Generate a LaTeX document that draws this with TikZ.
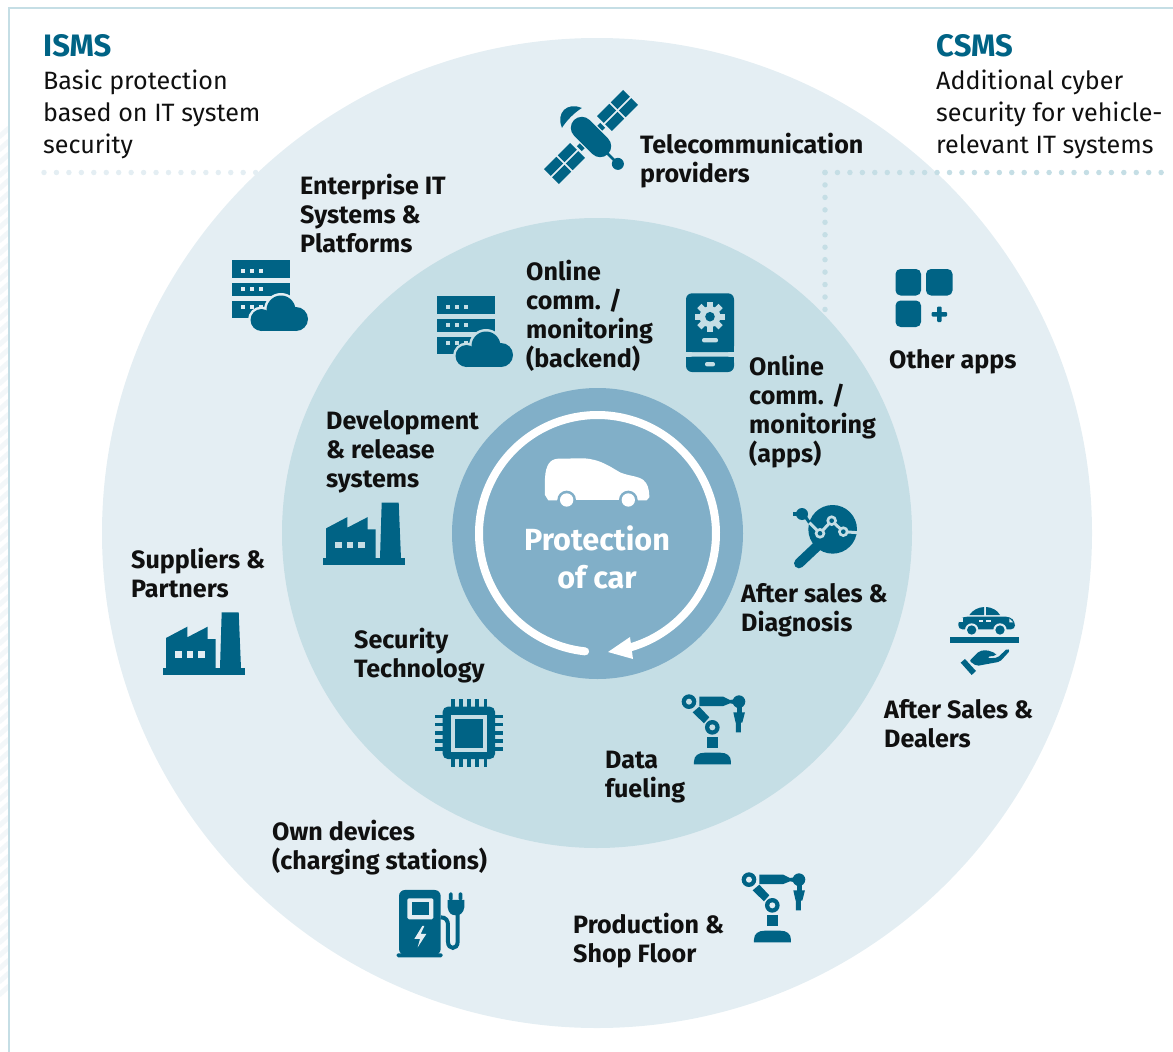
\documentclass[tikz,border=0pt]{standalone}
\usepackage{fontspec}
\setmainfont{Fira Sans}
\normallineskiplimit=-20pt
\AtBeginDocument{\lineskiplimit=-20pt\relax\normallineskiplimit=-20pt\relax}
\definecolor{outerc}{HTML}{E4EEF3}
\definecolor{midc}{HTML}{C5DEE5}
\definecolor{innerc}{HTML}{81AFC8}
\definecolor{ic}{HTML}{006385}
\definecolor{txt}{HTML}{101010}
\definecolor{hatch}{HTML}{F3F7F9}
\tikzset{
  lab/.style={anchor=north west,inner sep=0pt,align=left,text=txt,font=\fontsize{25.1}{28.9}\selectfont\bfseries},
  body/.style={anchor=north west,inner sep=0pt,align=left,text=txt,font=\fontsize{25.1}{32}\selectfont},
  head/.style={anchor=north west,inner sep=0pt,align=left,text=ic,font=\fontsize{31}{32}\selectfont\bfseries},
  centre/.style={inner sep=0pt,align=center,text=white,font=\fontsize{30.6}{38}\selectfont\bfseries},
  pics/server/.style={code={
    \fill[ic] (0,0) rectangle (58,18.4);
    \fill[ic] (0,22.7) rectangle (58,36);
    \fill[ic] (0,40.7) rectangle (58,58);
    \foreach \yy in {8.7,26.8,44.7}{\foreach \xx in {9.3,18.3,27.3}{\fill[#1] (\xx,\yy) rectangle +(4,4);}}
    \filldraw[#1,line width=5pt] (29.5,60) circle (11);
    \filldraw[#1,line width=5pt] (49,50) circle (14.5);
    \filldraw[#1,line width=5pt] (64,59) circle (12);
    \filldraw[#1,line width=5pt] (29.5,55) rectangle (64,71);
    \fill[ic] (29.5,60) circle (11);
    \fill[ic] (49,50) circle (14.5);
    \fill[ic] (64,59) circle (12);
    \fill[ic] (29.5,55) rectangle (64,71);
  }},
  pics/factory/.style={code={
    \fill[ic] (0,55.4) rectangle (81.7,62.4);
    \fill[ic] (2.7,25.7) -- (24,14.4) -- (24,25) -- (44.4,14.4) -- (44.4,26.7) -- (52.4,26.7) -- (52.4,56) -- (2.7,56) -- cycle;
    \fill[ic] (58.4,0) -- (75.4,0) -- (77.7,56) -- (56.7,56) -- cycle;
    \foreach \xx in {11.7,23.4,35}{\fill[#1] (\xx,39) rectangle +(6.7,6.7);}
  }},
  pics/robot/.style={code={
    \begin{scope}[x=0.3333pt,y=-0.3333pt]
      \fill[ic] (942,253) -- (942,245) .. controls (942,227) and (955,218) .. (975,218) -- (1020,218) .. controls (1040,218) and (1053,227) .. (1053,245) -- (1053,253) -- cycle;
      \fill[ic] (982,172) rectangle (1015,205);
      \fill[ic] (938,97) -- (958,80) -- (988,112) -- (972,130) -- cycle;
      \fill[ic] (958,50) -- (1030,50) -- (1050,60) -- (1062,58) -- (1062,72) -- (1050,70) -- (1030,78) -- (958,78) -- cycle;
      \fill[ic] (1077,65) circle (19);
      \fill[ic] (1070,80) rectangle (1085,98);
      \fill[ic] (1060,97) -- (1095,97) -- (1087,128) -- (1083,128) -- (1083,157) -- (1068,157) -- (1068,128) -- (1067,128) -- cycle;
      \fill[ic] (997,142) circle (22);
      \fill[ic] (927,65) circle (22);
      \fill[#1] (997,142) circle (9);
      \fill[#1] (927,65) circle (9);
    \end{scope}
  }},
}
\begin{document}
\begin{tikzpicture}[x=1pt,y=-1pt]
\useasboundingbox (0,0) rectangle (1173,1052);
% faint hatch at the left edge
\begin{scope}
  \clip (0,0) rectangle (8,1052);
  \foreach \yy in {130,143,...,990}{\draw[hatch,line width=5pt] (-1,\yy+7) -- (9,\yy-2);}
\end{scope}
% frame
\coordinate (f1) at (9.3,1052);
\coordinate (f2) at (9.3,8);
\coordinate (f3) at (1173,8);
\draw[midc,line width=2pt] (f1) -- (f2) -- (f3);
% discs
\fill[outerc] (597,533) circle (495);
\fill[midc] (597,533) circle (315);
\fill[innerc] (597.5,533.5) circle (145.5);
% dotted rules
\coordinate (d1) at (44,172.5);
\coordinate (d2) at (258,172.5);
\coordinate (d3) at (825,172.5);
\coordinate (d4) at (1166,172.5);
\coordinate (d5) at (825,312);
\draw[outerc,line width=5.5pt,line cap=round,dash pattern=on 0pt off 12.45pt] (d1) -- (d2);
\draw[midc,line width=5.5pt,line cap=round,dash pattern=on 0pt off 12.45pt] (d3) -- (d4);
\draw[midc,line width=5.5pt,line cap=round,dash pattern=on 0pt off 12.45pt] (d3) -- (d5);
% ring with arrow
\draw[white,line width=8pt,line cap=round] plot[domain=96:437,samples=120,smooth] ({597.5+118.5*cos(\x)},{533.5+118.5*sin(\x)});
\fill[white] (608,652) -- (630,637) -- (633,659) -- cycle;
% car
\begin{scope}[shift={(450,390)},x=0.3333pt,y=-0.3333pt]
  \fill[white] (285,315) -- (285,265) .. controls (287,225) and (300,207) .. (325,206) -- (400,205) .. controls (450,207) and (480,230) .. (510,247) .. controls (535,258) and (565,258) .. (580,270) .. controls (592,280) and (598,295) .. (598,322) -- (590,331) -- (295,331) -- cycle;
  \fill[innerc] (350,330) circle (28);
  \fill[innerc] (535,330) circle (28);
  \fill[innerc] (320,331) rectangle (565,345);
  \fill[white] (350,330) circle (20);
  \fill[white] (535,330) circle (20);
\end{scope}
% enterprise and backend servers
\pic at (232,260) {server=outerc};
\pic at (437,296) {server=midc};
% satellite
\begin{scope}[shift={(591,137)},rotate=45]
  \foreach \uu in {19,38.5,-56,-36.5}{\foreach \vv in {-10.5,1}{\fill[ic] (\uu,\vv) rectangle +(17.5,9.5);}}
  \fill[ic] (12.5,-3.5) rectangle (16.5,3.5);
  \fill[ic] (-16.5,-3.5) rectangle (-12.5,3.5);
  \draw[ic,line width=22pt,line cap=round] (0,-13) -- (0,13);
  \draw[ic,line width=2.5pt] (0,20) -- (0,38);
  \fill[ic] (0,38) circle (6);
  \fill[ic] (-14,-27) .. controls (-8,-42) and (8,-42) .. (14,-27) .. controls (5,-29) and (-5,-29) .. cycle;
\end{scope}
% phone
\fill[ic,rounded corners=6pt] (686,352) -- (686,293.3) -- (734,293.3) -- (734,352) -- cycle;
\fill[ic] (686,345) rectangle (734,351.7);
\fill[ic,rounded corners=6pt] (686,356.7) -- (734,356.7) -- (734,372) -- (686,372) -- cycle;
\fill[ic] (686,356.7) rectangle (734,362);
\foreach \a in {0,45,...,315}{\fill[midc,rotate around={\a:(710,316.7)}] (707,301.7) rectangle (713,310);}
\fill[midc] (710,316.7) circle (10.5);
\fill[ic] (710,316.7) circle (4.8);
\fill[midc,rounded corners=2pt] (702,338) rectangle (718,342.4);
\fill[midc,rounded corners=2pt] (705,362) rectangle (715,366.4);
% apps
\fill[ic,rounded corners=5pt] (895.5,269) rectangle (921,295.5);
\fill[ic,rounded corners=5pt] (926,269) rectangle (952.5,295.5);
\fill[ic,rounded corners=5pt] (895.5,300.5) rectangle (921,327);
\fill[ic,rounded corners=1pt] (931.5,312) rectangle (947,316.5);
\fill[ic,rounded corners=1pt] (937,306.5) rectangle (941.5,322);
% magnifier
\begin{scope}[shift={(780,490)},x=0.3333pt,y=-0.3333pt]
  \draw[ic,line width=10pt,line cap=round] (110,170) -- (57,220);
  \fill[ic] (158,118) circle (73);
  \draw[ic,line width=3pt] (70,72) -- (90,100);
  \fill[ic] (66,72) circle (18);
  \fill[ic] (40,65) rectangle (60,78);
  \draw[midc,line width=3pt] (88,98) -- (120,130) -- (155,92) -- (190,125) -- (232,128);
  \foreach \p in {(120,130),(155,92),(190,125)}{\fill[midc] \p circle (16);\fill[ic] \p circle (7);}
\end{scope}
% factories
\pic at (323.3,502.7) {factory=midc};
\pic at (163.3,612.3) {factory=outerc};
% robots
\pic at (380,680) {robot=midc};
\pic at (440,858) {robot=outerc};
% chip
\foreach \t in {0,8.15,...,33}{
  \fill[ic] ({452.7+\t-1.8},699) rectangle ({452.7+\t+1.8},767);
  \fill[ic] (434.5,{716.5+\t-1.8}) rectangle (503.3,{716.5+\t+1.8});
}
\fill[ic,rounded corners=5pt] (442.7,706.7) rectangle (495,759);
\fill[midc] (450.7,715) rectangle (487.3,751.7);
\fill[ic] (454.7,719) rectangle (483.3,747.7);
% charger
\begin{scope}[shift={(380,680)},x=0.3333pt,y=-0.3333pt]
  \fill[ic,rounded corners=6pt] (57,825) -- (57,630) -- (182,630) -- (182,825) -- cycle;
  \fill[ic,rounded corners=1.5pt] (50,820) rectangle (188,832);
  \fill[outerc,rounded corners=1.5pt] (82,655) rectangle (160,718);
  \fill[ic] (95,667) rectangle (147,705);
  \fill[outerc] (127,738) -- (103,777) -- (120,777) -- (113,802) -- (139,762) -- (122,762) -- (133,738) -- cycle;
  \draw[ic,line width=4pt] (182,712) .. controls (198,712) and (204,722) .. (204,735) -- (204,785) .. controls (204,810) and (233,810) .. (233,785) -- (233,700);
  \fill[ic] (203,660) -- (253,660) -- (253,682) .. controls (250,700) and (240,706) .. (228,706) .. controls (214,706) and (206,700) .. (203,682) -- cycle;
  \fill[ic,rounded corners=1.5pt] (207,637) rectangle (218,662);
  \fill[ic,rounded corners=1.5pt] (236,637) rectangle (247,662);
\end{scope}
% car on hand
\begin{scope}[shift={(930,590)},x=0.3333pt,y=-0.3333pt]
  \fill[ic] (118,75) .. controls (128,60) and (145,52) .. (162,51) -- (162,75) -- cycle;
  \fill[ic] (168,51) .. controls (185,52) and (202,60) .. (210,75) -- (168,75) -- cycle;
  \fill[ic,rounded corners=4pt] (85,90) -- (100,80) -- (240,80) -- (255,95) -- (255,118) -- (85,118) -- cycle;
  \fill[outerc] (88,85) -- (100,85) -- (100,97) -- (88,97) -- cycle;
  \fill[outerc] (238,85) -- (250,97) -- (238,97) -- cycle;
  \fill[outerc] (147,90) rectangle (160,95);
  \fill[outerc] (168,90) rectangle (182,95);
  \fill[outerc] (125,120) circle (20);
  \fill[outerc] (210,120) circle (20);
  \fill[ic] (125,120) circle (14);
  \fill[ic] (210,120) circle (14);
  \fill[ic] (60,142) rectangle (267,158);
  \fill[ic] (92,218) -- (105,207) -- (138,243) -- (125,255) -- cycle;
  \fill[ic,rounded corners=2pt] (118,213) -- (148,183) -- (170,180) -- (198,190) -- (198,197) -- (172,200) -- (172,205) -- (203,203) -- (232,175) -- (240,182) -- (210,215) -- (140,228) -- cycle;
\end{scope}
% texts
\node[head] (isms) at (43,33.5) {\strut ISMS};
\node[head] (csms) at (936,33.5) {\strut CSMS};
\node[body] (ismsb) at (43,66.6) {\strut Basic protection\\based on IT system\\security};
\node[body] (csmsb) at (936,66.6) {\strut Additional cyber\\security for vehicle-\\relevant IT systems};
\node[lab] (tele) at (640,133) {\strut Telecommunication\\providers};
\node[lab] (ent) at (300,174) {\strut Enterprise IT\\Systems \&\\Platforms};
\node[lab] (onb) at (526,260) {\strut Online\\comm. /\\monitoring\\(backend)};
\node[lab] (ona) at (749,355) {\strut Online\\comm. /\\monitoring\\(apps)};
\node[lab] (oth) at (889,348) {\strut Other apps};
\node[lab] (dev) at (326,409) {\strut Development\\\&\ release\\systems};
\node[lab] (sup) at (131,548) {\strut Suppliers \&\\Partners};
\node[lab] (sec) at (354,628) {\strut Security\\Technology};
\node[lab] (afd) at (741,582) {\strut After sales \&\\Diagnosis};
\node[lab] (asd) at (884,698) {\strut After Sales \&\\Dealers};
\node[lab] (dat) at (605,748) {\strut Data\\fueling};
\node[lab] (own) at (272,820) {\strut Own devices\\(charging stations)};
\node[lab] (pro) at (573,913) {\strut Production \&\\Shop Floor};
\node[centre] (prot) at (597,557) {Protection\\of car};
\end{tikzpicture}
\end{document}
